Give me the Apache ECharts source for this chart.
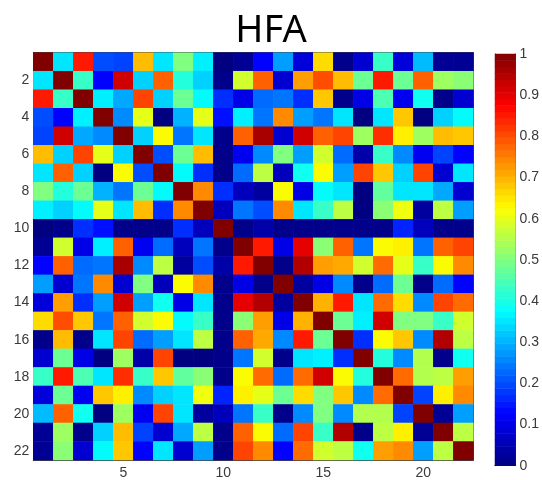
<!DOCTYPE html>
<html>
<head>
<meta charset="utf-8">
<script src="https://cdn.jsdelivr.net/npm/echarts@6/dist/echarts.min.js"></script>
<style>
  html, body { margin: 0; padding: 0; background: #fff; }
  #chart { width: 542px; height: 480px; }
</style>
</head>
<body>
<div id="chart"></div>
<script>
// Channel labels 1..22 (used for both axes)
const channels = Array.from({ length: 22 }, (_, i) => String(i + 1));

// Symmetric HFA coupling matrix, one row per channel
const hfa = [
  [1.00,0.35,0.85,0.20,0.19,0.69,0.35,0.50,0.36,0.00,0.02,0.125,0.28,0.09,0.66,0.01,0.08,0.43,0.09,0.31,0.02,0.02],
  [0.35,1.00,0.43,0.125,0.92,0.33,0.78,0.41,0.33,0.01,0.58,0.78,0.08,0.72,0.80,0.69,0.48,0.85,0.48,0.78,0.53,0.51],
  [0.85,0.43,1.00,0.36,0.29,0.81,0.33,0.48,0.375,0.17,0.10,0.23,0.24,0.17,0.68,0.01,0.10,0.45,0.11,0.39,0.01,0.08],
  [0.20,0.125,0.36,1.00,0.26,0.60,0.00,0.30,0.60,0.14,0.36,0.24,0.74,0.28,0.24,0.35,0.00,0.35,0.68,0.00,0.33,0.375],
  [0.19,0.92,0.29,0.26,1.00,0.33,0.625,0.24,0.35,0.01,0.78,0.96,0.08,0.92,0.78,0.81,0.53,0.83,0.64,0.53,0.69,0.68],
  [0.69,0.33,0.81,0.60,0.33,1.00,0.20,0.48,0.69,0.01,0.11,0.26,0.50,0.28,0.58,0.23,0.04,0.43,0.26,0.11,0.19,0.125],
  [0.35,0.78,0.33,0.00,0.625,0.20,1.00,0.375,0.17,0.01,0.23,0.56,0.06,0.39,0.625,0.28,0.81,0.68,0.33,0.81,0.08,0.35],
  [0.50,0.41,0.48,0.30,0.24,0.48,0.375,1.00,0.74,0.17,0.06,0.03,0.625,0.10,0.375,0.35,0.00,0.47,0.35,0.35,0.29,0.08],
  [0.36,0.33,0.375,0.60,0.35,0.69,0.17,0.74,1.00,0.06,0.24,0.20,0.74,0.35,0.43,0.56,0.00,0.51,0.61,0.03,0.56,0.28],
  [0.00,0.01,0.17,0.14,0.01,0.01,0.01,0.17,0.06,1.00,0.01,0.04,0.01,0.01,0.01,0.01,0.01,0.01,0.16,0.06,0.01,0.01],
  [0.02,0.58,0.10,0.36,0.78,0.11,0.23,0.06,0.24,0.01,1.00,0.85,0.10,0.90,0.51,0.78,0.24,0.625,0.64,0.24,0.78,0.81],
  [0.125,0.78,0.23,0.24,0.96,0.26,0.56,0.03,0.20,0.04,0.85,1.00,0.01,0.95,0.72,0.71,0.58,0.77,0.60,0.43,0.625,0.74],
  [0.28,0.08,0.24,0.74,0.08,0.50,0.06,0.625,0.74,0.01,0.10,0.01,1.00,0.03,0.10,0.26,0.01,0.23,0.48,0.01,0.23,0.125],
  [0.09,0.72,0.17,0.28,0.92,0.28,0.39,0.10,0.35,0.01,0.90,0.95,0.03,1.00,0.70,0.85,0.35,0.77,0.66,0.26,0.81,0.77],
  [0.66,0.80,0.68,0.24,0.78,0.58,0.625,0.375,0.43,0.01,0.51,0.72,0.10,0.70,1.00,0.48,0.36,0.92,0.50,0.50,0.43,0.58],
  [0.01,0.69,0.01,0.35,0.81,0.23,0.28,0.35,0.56,0.01,0.78,0.71,0.26,0.85,0.48,1.00,0.17,0.625,0.68,0.26,0.95,0.56],
  [0.08,0.48,0.10,0.00,0.53,0.04,0.81,0.00,0.00,0.01,0.24,0.58,0.01,0.35,0.36,0.17,1.00,0.41,0.26,0.55,0.01,0.39],
  [0.43,0.85,0.45,0.35,0.83,0.43,0.68,0.47,0.51,0.01,0.625,0.77,0.23,0.77,0.92,0.625,0.41,1.00,0.77,0.55,0.56,0.72],
  [0.09,0.48,0.11,0.68,0.64,0.26,0.33,0.35,0.61,0.16,0.64,0.60,0.48,0.66,0.50,0.68,0.26,0.77,1.00,0.19,0.64,0.74],
  [0.31,0.78,0.39,0.00,0.53,0.11,0.81,0.35,0.03,0.06,0.24,0.43,0.01,0.26,0.50,0.26,0.55,0.55,0.19,1.00,0.02,0.28],
  [0.02,0.53,0.01,0.33,0.69,0.19,0.08,0.29,0.56,0.01,0.78,0.625,0.23,0.81,0.43,0.95,0.01,0.56,0.64,0.02,1.00,0.56],
  [0.02,0.51,0.08,0.375,0.68,0.125,0.35,0.08,0.28,0.01,0.81,0.74,0.125,0.77,0.58,0.56,0.39,0.72,0.74,0.28,0.56,1.00]
];

// Colour bar: 64 levels spanning 0..1
const levelCount = 64;
const levels = Array.from({ length: levelCount }, (_, i) => String(i));
const levelValues = levels.map((_, i) => (i + 0.5) / levelCount);

// Jet palette (64 entries)
function jet(x) {
  const c = v => Math.max(0, Math.min(1, v));
  const r = c(1.5 - Math.abs(4 * x - 3));
  const g = c(1.5 - Math.abs(4 * x - 2));
  const b = c(1.5 - Math.abs(4 * x - 1));
  const h = v => Math.round(v * 255).toString(16).padStart(2, '0');
  return '#' + h(r) + h(g) + h(b);
}
const jetColors = Array.from({ length: levelCount }, (_, i) => jet(i / (levelCount - 1)));

const cells = [];
hfa.forEach((row, r) => row.forEach((v, c) => cells.push([c, r, v])));
const barCells = levelValues.map((v, i) => [0, i, v]);

const labelFont = { fontFamily: 'Liberation Sans', fontSize: 14, color: '#3a3a3a' };
const frame = { show: true, lineStyle: { color: '#444', width: 1 } };
const hiddenLine = { show: false };

const everyFifth = i => (i + 1) % 5 === 0;
const everySecond = i => (i + 1) % 2 === 0;

const chart = echarts.init(document.getElementById('chart'), null, { renderer: 'canvas' });
chart.setOption({
  animation: false,
  backgroundColor: '#fff',
  title: {
    text: 'HFA',
    left: 266,
    top: 7,
    textAlign: 'center',
    textStyle: { fontFamily: 'Noto Sans', fontSize: 38, fontWeight: 'normal', color: '#000' }
  },
  grid: [
    { left: 33.3, top: 52.7, width: 440, height: 411.5 },
    { left: 495, top: 54, width: 27, height: 411.7 }
  ],
  xAxis: [
    {
      type: 'category', data: channels, gridIndex: 0, position: 'bottom',
      axisLine: frame,
      axisTick: { inside: true, length: 4, alignWithLabel: true, interval: everyFifth, lineStyle: { color: '#222' } },
      axisLabel: Object.assign({ interval: everyFifth, margin: 6 }, labelFont),
      splitLine: { show: false }
    },
    {
      type: 'category', data: channels, gridIndex: 0, position: 'top',
      axisLine: frame,
      axisTick: { inside: true, length: 4, alignWithLabel: true, interval: everyFifth, lineStyle: { color: '#222' } },
      axisLabel: { show: false },
      splitLine: { show: false }
    },
    {
      type: 'category', data: [''], gridIndex: 1, position: 'bottom',
      axisLine: frame, axisTick: { show: false }, axisLabel: { show: false }
    },
    {
      type: 'category', data: [''], gridIndex: 1, position: 'top',
      axisLine: frame, axisTick: { show: false }, axisLabel: { show: false }
    }
  ],
  yAxis: [
    {
      type: 'category', data: channels, gridIndex: 0, position: 'left', inverse: true,
      axisLine: frame,
      axisTick: { inside: true, length: 4, alignWithLabel: true, interval: everySecond, lineStyle: { color: '#222' } },
      axisLabel: Object.assign({ interval: everySecond, margin: 4 }, labelFont),
      splitLine: { show: false }
    },
    {
      type: 'category', data: channels, gridIndex: 0, position: 'right', inverse: true,
      axisLine: frame,
      axisTick: { inside: true, length: 4, alignWithLabel: true, interval: everySecond, lineStyle: { color: '#222' } },
      axisLabel: { show: false },
      splitLine: { show: false }
    },
    {
      type: 'category', data: levels, gridIndex: 1, position: 'left',
      axisLine: hiddenLine, axisTick: { show: false }, axisLabel: { show: false }
    },
    {
      type: 'value', min: 0, max: 1, interval: 0.1, gridIndex: 1, position: 'right',
      axisLine: frame,
      axisTick: { inside: true, length: 3, lineStyle: { color: '#222' } },
      axisLabel: Object.assign({ margin: 4 }, labelFont),
      splitLine: { show: false }
    },
    {
      type: 'value', min: 0, max: 1, interval: 0.1, gridIndex: 1, position: 'left',
      axisLine: frame,
      axisTick: { inside: true, length: 3, lineStyle: { color: '#222' } },
      axisLabel: { show: false },
      splitLine: { show: false }
    }
  ],
  visualMap: {
    type: 'continuous', min: 0, max: 1, show: false,
    seriesIndex: [0, 1],
    dimension: 2,
    inRange: { color: jetColors }
  },
  series: [
    {
      type: 'heatmap', xAxisIndex: 0, yAxisIndex: 0, data: cells,
      itemStyle: { borderWidth: 0 }, emphasis: { disabled: true }, z: 1
    },
    {
      type: 'heatmap', xAxisIndex: 2, yAxisIndex: 2, data: barCells,
      itemStyle: { borderWidth: 0 }, emphasis: { disabled: true }, z: 1
    }
  ]
});
</script>
</body>
</html>
